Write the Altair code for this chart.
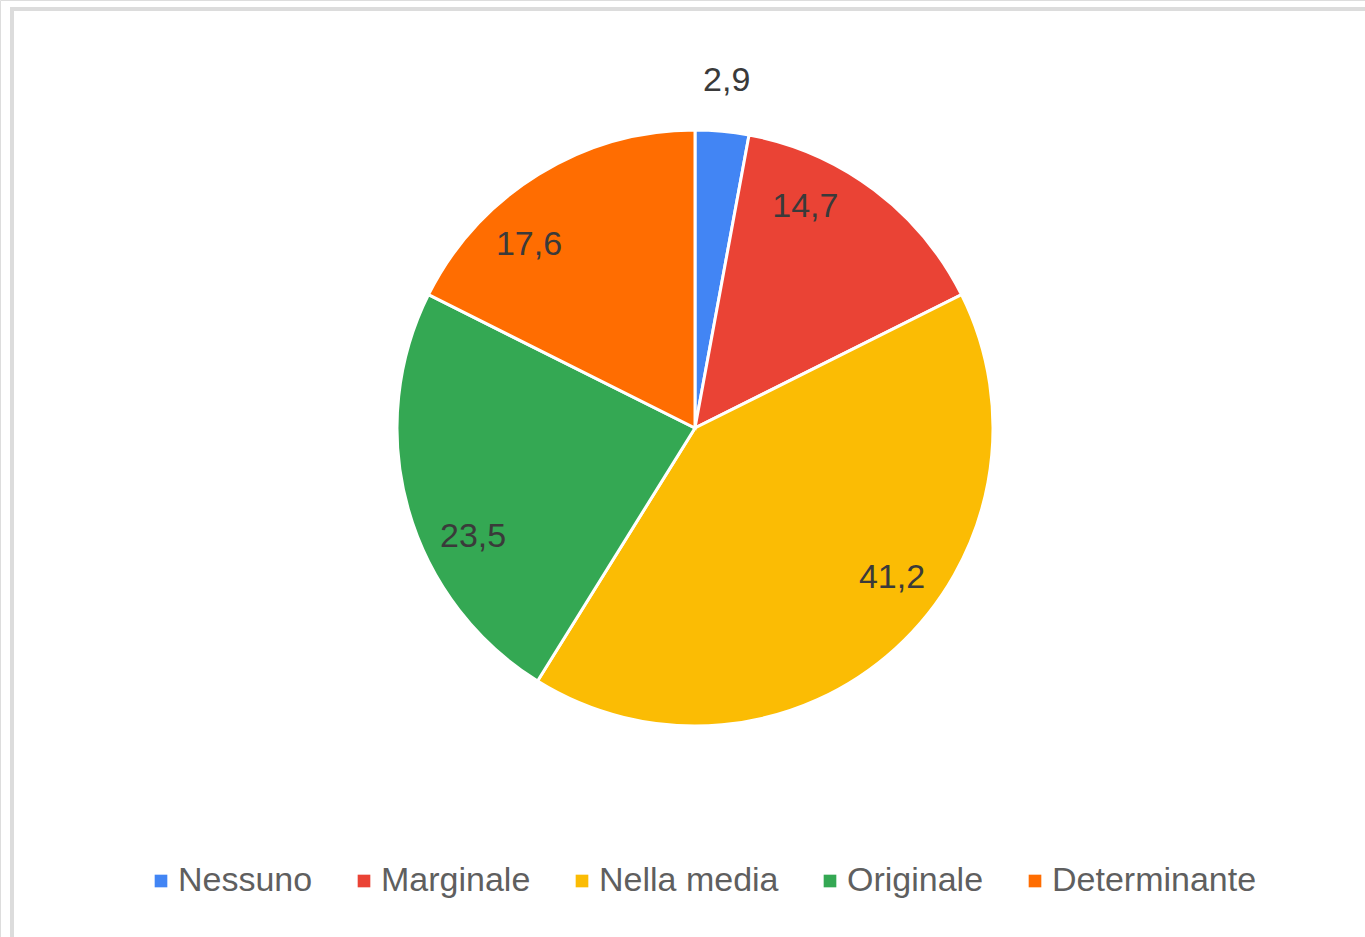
import altair as alt
import pandas as pd

categories = ["Nessuno", "Marginale", "Nella media", "Originale", "Determinante"]
values = [2.9, 14.7, 41.2, 23.5, 17.6]
labels = ["2,9", "14,7", "41,2", "23,5", "17,6"]
colors = ["#4285F4", "#EA4335", "#FBBC04", "#34A853", "#FF6D01"]

df = pd.DataFrame({
    "cat": categories,
    "val": values,
    "lab": labels,
    "ord": list(range(len(categories))),
})

R = 298
CX, CY = 695, 428
FONT = "Liberation Sans"

df["lr"] = [R + 50 if v < 5 else R * 0.83 for v in values]

base = alt.Chart(df).encode(
    theta=alt.Theta("val:Q", stack=True),
    order=alt.Order("ord:Q"),
)

pie = base.mark_arc(stroke="white", strokeWidth=3, radius=R).encode(
    x=alt.value(CX),
    y=alt.value(CY),
    color=alt.Color(
        "cat:N",
        sort=categories,
        scale=alt.Scale(domain=categories, range=colors),
        legend=alt.Legend(
            title=None,
            orient="none",
            direction="horizontal",
            legendX=144,
            legendY=864,
            symbolType="square",
            symbolSize=160,
            symbolStrokeWidth=0,
            labelFont=FONT,
            labelFontSize=34,
            labelColor="#5f5f5f",
            labelOffset=0,
            columnPadding=34,
            labelLimit=400,
        ),
    ),
)

text = base.mark_text(font=FONT, fontSize=34, color="#3a3a3a").encode(
    x=alt.value(CX),
    y=alt.value(CY),
    radius=alt.Radius("lr:Q", scale=None),
    text="lab:N",
)

top_border = alt.Chart(df).mark_rule(color="#dcdcdc", strokeWidth=4).encode(
    x=alt.value(10), x2=alt.value(1365), y=alt.value(9)
)
left_border = alt.Chart(df).mark_rule(color="#dcdcdc", strokeWidth=4).encode(
    x=alt.value(12), y=alt.value(7), y2=alt.value(937)
)

chart = (
    alt.layer(top_border, left_border, pie, text)
    .properties(width=1365, height=937, autosize=alt.AutoSizeParams(type="none"), padding=0)
    .configure_view(stroke=None)
    .configure(background="white")
)

chart.save("out.html", embed_options={"renderer": "svg", "actions": False})
